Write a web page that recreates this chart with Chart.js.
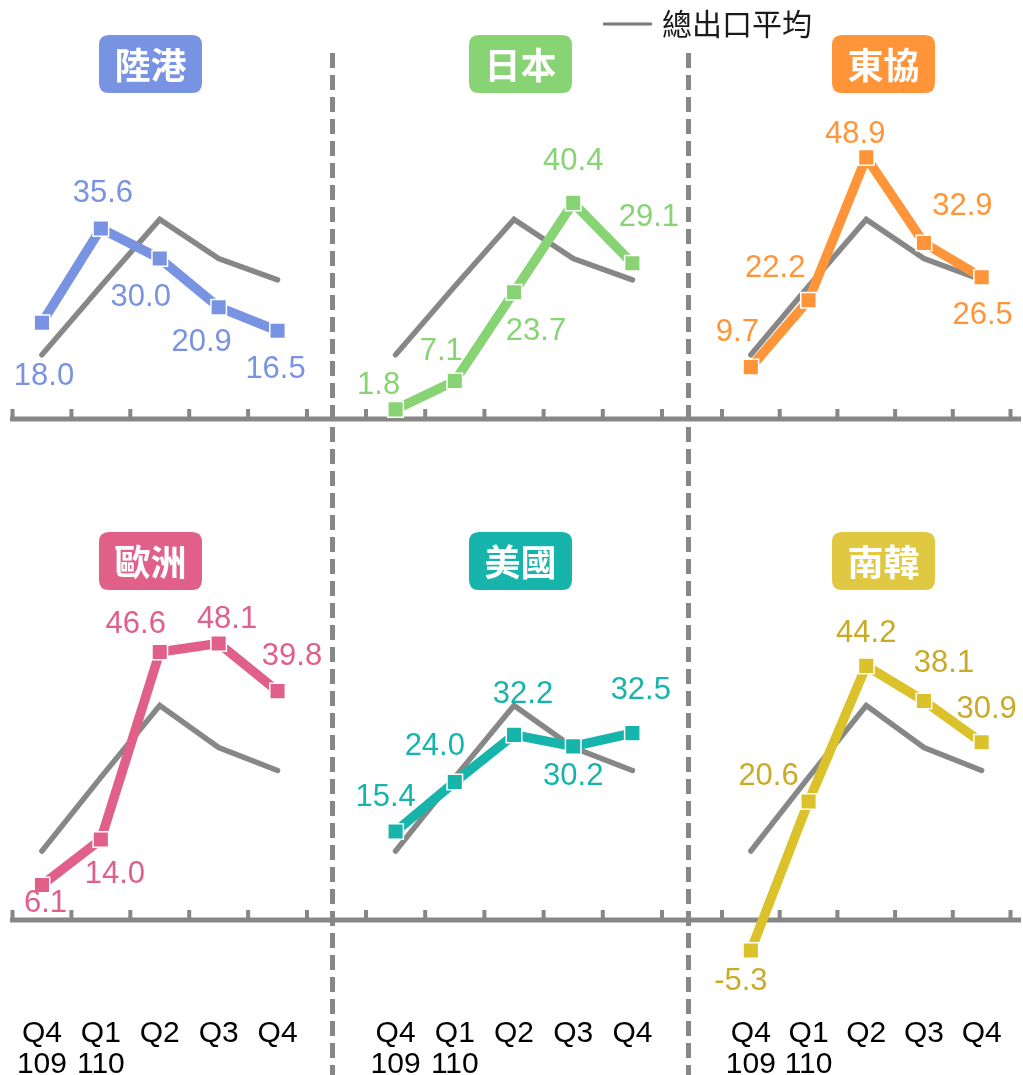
<!DOCTYPE html>
<html>
<head>
<meta charset="utf-8">
<script src="https://cdn.jsdelivr.net/npm/chart.js@4.4.1/dist/chart.umd.min.js"></script>
<style>
  html, body { margin: 0; padding: 0; background: #ffffff; }
  #wrap { position: relative; width: 1023px; height: 1075px; overflow: hidden; }
  #wrap canvas { position: absolute; left: 0; top: 0; pointer-events: none; }
</style>
</head>
<body>
<div id="wrap"></div>
<script>
// ---- data: export growth (%) by quarter ----
const quarterLabels = [['Q4', '109'], ['Q1', '110'], ['Q2'], ['Q3'], ['Q4']];
const totalExportAvg = [12.0, 24.8, 37.3, 30.0, 26.0];
const chinaHK = [18.0, 35.6, 30.0, 20.9, 16.5];
const japan   = [1.8, 7.1, 23.7, 40.4, 29.1];
const asean   = [9.7, 22.2, 48.9, 32.9, 26.5];
const europe  = [6.1, 14.0, 46.6, 48.1, 39.8];
const usa     = [15.4, 24.0, 32.2, 30.2, 32.5];
const korea   = [-5.3, 20.6, 44.2, 38.1, 30.9];
const regionNames = ['陸港', '日本', '東協', '歐洲', '美國', '南韓'];
const avgName = '總出口平均';

// ---- layout & style ----
const W = 1023, H = 1075;
const GRAY = '#878787';
const NUM_FONT = '"Liberation Sans", Arial, sans-serif';
const CJK_FONT = '"Noto Sans CJK TC", "Noto Sans CJK SC", sans-serif';
const Y_MIN = -10, Y_MAX = 60;

const columns = [
  { left: 11,  right: 307,  boxX: 150.5 },
  { left: 366, right: 662,  boxX: 520.5 },
  { left: 722, right: 1018, boxX: 883.5 }
];
const rowsLayout = [
  { zero: 419, pxPerUnit: 5.35, boxTop: 35 },
  { zero: 920, pxPerUnit: 5.75, boxTop: 532 }
];

// label placement around each point: [dx, dy] of the text centre
const labelOffsets = [
  [[2, 54], [2, -35], [-19, 39], [-17, 35.5], [-2, 39]],
  [[-17, -23.5], [-13.5, -30], [22, 39.4], [0, -41.7], [16.5, -45.7]],
  [[-13.5, -34.5], [-33.3, -32], [-11, -23.4], [38.4, -36.7], [1, 37.8]],
  [[3.5, 19], [14, 35], [-24, -27.5], [8.4, -24], [14.4, -34.7]],
  [[-10, -34], [-20, -35.5], [9, -40], [0, 30], [8.4, -42.7]],
  [[-10, 31.3], [-40, -25], [0, -32.4], [20, -37.5], [5, -33]]
];

const panels = [
  { name: regionNames[0], values: chinaHK, line: '#7993E3', text: '#7993E3', box: '#7993E3' },
  { name: regionNames[1], values: japan,   line: '#88D474', text: '#88D474', box: '#88D474' },
  { name: regionNames[2], values: asean,   line: '#FF9538', text: '#FF9538', box: '#FF9538' },
  { name: regionNames[3], values: europe,  line: '#E0608A', text: '#E0608A', box: '#E0608A' },
  { name: regionNames[4], values: usa,     line: '#17B4AC', text: '#17B4AC', box: '#17B4AC' },
  { name: regionNames[5], values: korea,   line: '#DCC22A', text: '#C9AB26', box: '#E0C843' }
];

function roundedBox(ctx, x, y, w, h, r) {
  ctx.beginPath();
  ctx.moveTo(x + r, y);
  ctx.lineTo(x + w - r, y);
  ctx.quadraticCurveTo(x + w, y, x + w, y + r);
  ctx.lineTo(x + w, y + h - r);
  ctx.quadraticCurveTo(x + w, y + h, x + w - r, y + h);
  ctx.lineTo(x + r, y + h);
  ctx.quadraticCurveTo(x, y + h, x, y + h - r);
  ctx.lineTo(x, y + r);
  ctx.quadraticCurveTo(x, y, x + r, y);
  ctx.closePath();
}

function decorPlugin(p, idx, col, row) {
  return {
    id: 'panelDecor' + idx,
    beforeDatasetsDraw(chart) {
      const ctx = chart.ctx;
      const area = chart.chartArea;
      const y0 = chart.scales.y.getPixelForValue(0);
      ctx.save();
      ctx.strokeStyle = GRAY;
      if (col === 0) {
        // zero baseline running across the whole row
        ctx.lineWidth = 5;
        ctx.beginPath();
        ctx.moveTo(10, y0);
        ctx.lineTo(1021, y0);
        ctx.stroke();
      }
      // quarter boundary ticks
      const n = p.values.length;
      const step = (area.right - area.left) / n;
      ctx.lineWidth = 4;
      for (let i = 0; i <= n; i++) {
        const x = area.left + i * step;
        ctx.beginPath();
        ctx.moveTo(x, y0 - 10);
        ctx.lineTo(x, y0);
        ctx.stroke();
      }
      if (idx === 0) {
        // dashed column separators
        ctx.lineWidth = 5;
        ctx.setLineDash([15, 7]);
        [332.5, 688.5].forEach(x => {
          ctx.beginPath();
          ctx.moveTo(x, 53);
          ctx.lineTo(x, H);
          ctx.stroke();
        });
        ctx.setLineDash([]);
        // legend for the average line
        ctx.lineWidth = 3;
        ctx.strokeStyle = '#7a7a7a';
        ctx.beginPath();
        ctx.moveTo(603, 24);
        ctx.lineTo(652, 24);
        ctx.stroke();
        ctx.fillStyle = '#1a1a1a';
        ctx.font = '30px ' + CJK_FONT;
        ctx.textAlign = 'left';
        ctx.textBaseline = 'middle';
        ctx.fillText(avgName, 662, 24);
      }
      ctx.restore();
    },
    afterDatasetsDraw(chart) {
      const ctx = chart.ctx;
      const meta = chart.getDatasetMeta(1);
      ctx.save();
      ctx.font = '31px ' + NUM_FONT;
      ctx.fillStyle = p.text;
      ctx.textAlign = 'center';
      ctx.textBaseline = 'middle';
      meta.data.forEach((pt, i) => {
        const off = labelOffsets[idx][i];
        ctx.fillText(p.values[i].toFixed(1), pt.x + off[0], pt.y + off[1]);
      });
      ctx.restore();
    },
    afterDraw(chart) {
      const ctx = chart.ctx;
      ctx.save();
      // region title badge
      const bw = 103, bh = 58;
      const bx = columns[col].boxX - bw / 2;
      const by = rowsLayout[row].boxTop;
      ctx.fillStyle = p.box;
      roundedBox(ctx, bx, by, bw, bh, 10);
      ctx.fill();
      ctx.fillStyle = '#ffffff';
      ctx.font = 'bold 36px ' + CJK_FONT;
      ctx.textAlign = 'center';
      ctx.textBaseline = 'middle';
      ctx.fillText(p.name, columns[col].boxX, by + bh / 2 + 1);
      // quarter labels under the lower row
      if (row === 1) {
        const xs = chart.scales.x;
        ctx.fillStyle = '#000000';
        ctx.font = '30px ' + NUM_FONT;
        ctx.textBaseline = 'alphabetic';
        quarterLabels.forEach((lines, i) => {
          const x = xs.getPixelForValue(i);
          lines.forEach((t, j) => ctx.fillText(t, x, 1042 + j * 31));
        });
      }
      ctx.restore();
    }
  };
}

const wrap = document.getElementById('wrap');
panels.forEach((p, idx) => {
  const col = idx % 3, row = Math.floor(idx / 3);
  const c = columns[col], r = rowsLayout[row];
  const top = r.zero - Y_MAX * r.pxPerUnit;
  const bottom = r.zero - Y_MIN * r.pxPerUnit;
  const canvas = document.createElement('canvas');
  canvas.width = W; canvas.height = H;
  canvas.style.width = W + 'px'; canvas.style.height = H + 'px';
  wrap.appendChild(canvas);

  new Chart(canvas, {
    type: 'line',
    data: {
      labels: quarterLabels.map(l => l.join(' ')),
      datasets: [
        {
          label: avgName,
          data: totalExportAvg,
          borderColor: GRAY,
          borderWidth: 5.5,
          borderCapStyle: 'round',
          borderJoinStyle: 'miter',
          pointRadius: 0,
          tension: 0,
          order: 2,
          clip: false
        },
        {
          label: p.name,
          data: p.values,
          borderColor: p.line,
          borderWidth: 9.5,
          borderJoinStyle: 'round',
          pointStyle: 'rect',
          pointRadius: 11,
          pointBackgroundColor: p.line,
          pointBorderColor: '#ffffff',
          pointBorderWidth: 1.5,
          tension: 0,
          order: 1,
          clip: false
        }
      ]
    },
    options: {
      responsive: false,
      animation: false,
      devicePixelRatio: 1,
      layout: {
        padding: { left: c.left, right: W - c.right, top: top, bottom: H - bottom }
      },
      scales: {
        x: { type: 'category', offset: true, display: false },
        y: { min: Y_MIN, max: Y_MAX, display: false }
      },
      plugins: { legend: { display: false }, tooltip: { enabled: false } }
    },
    plugins: [decorPlugin(p, idx, col, row)]
  });
});
</script>
</body>
</html>
